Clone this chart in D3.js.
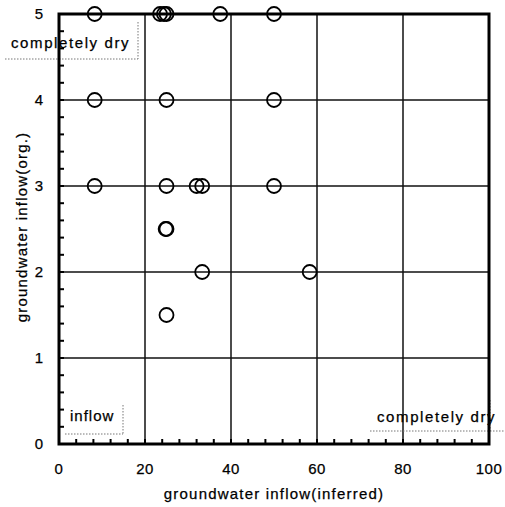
<!DOCTYPE html>
<html><head><meta charset="utf-8">
<script src="https://cdn.jsdelivr.net/npm/d3@7"></script>
<style>body{margin:0;background:#fff}svg{display:block}text{font-family:"Liberation Sans",Arial,sans-serif;fill:#000;stroke:#000;stroke-width:0.25px}</style>
</head><body><svg id="c" width="505" height="507"></svg>
<script>
const inferred = [8.3, 23.5, 24.4, 25, 37.5, 50, 8.3, 25, 50, 8.3, 25, 32, 33.3, 50, 24.8, 25, 33.3, 58.3, 25];
const original = [5, 5, 5, 5, 5, 5, 4, 4, 4, 3, 3, 3, 3, 3, 2.5, 2.5, 2, 2, 1.5];
const xTicks = [0, 20, 40, 60, 80, 100];
const yTicks = [0, 1, 2, 3, 4, 5];
const xTitle = "groundwater inflow(inferred)";
const yTitle = "groundwater inflow(org.)";

const svg = d3.select("#c");
const x = d3.scaleLinear().domain([0, 100]).range([59, 489]);
const y = d3.scaleLinear().domain([0, 5]).range([444, 14]);

// grid lines
svg.append("g").selectAll("line").data(xTicks.slice(1, -1)).join("line")
  .attr("x1", d => x(d)).attr("x2", d => x(d)).attr("y1", y(0)).attr("y2", y(5))
  .attr("stroke", "#111").attr("stroke-width", 1.5);
svg.append("g").selectAll("line").data(yTicks.slice(1, -1)).join("line")
  .attr("y1", d => y(d)).attr("y2", d => y(d)).attr("x1", x(0)).attr("x2", x(100))
  .attr("stroke", "#111").attr("stroke-width", 1.5);

// minor ticks
const xMinor = d3.range(0, 101, 4);
svg.append("g").selectAll("line").data(xMinor).join("line")
  .attr("x1", d => x(d)).attr("x2", d => x(d)).attr("y1", y(0)).attr("y2", y(0) - 5)
  .attr("stroke", "#000").attr("stroke-width", 2);
const yMinor = d3.range(0, 26).map(i => i * 0.2);
svg.append("g").selectAll("line").data(yMinor).join("line")
  .attr("y1", d => y(d)).attr("y2", d => y(d)).attr("x1", x(0)).attr("x2", x(0) + 5)
  .attr("stroke", "#000").attr("stroke-width", 2);

// text boxes (dotted)
function box(tx, ty, label, lines) {
  svg.append("text").attr("x", tx).attr("y", ty).attr("font-size", 15)
    .attr("letter-spacing", label === "inflow" ? 1 : 1.6).text(label);
  lines.forEach(l => svg.append("line").attr("x1", l[0]).attr("y1", l[1]).attr("x2", l[2]).attr("y2", l[3])
    .attr("stroke", "#777").attr("stroke-width", 1).attr("stroke-dasharray", "1.5,1.5"));
}
box(11, 48, "completely dry", [[5, 59, 138, 59], [138, 22, 138, 59]]);
box(70, 421, "inflow", [[65, 434, 123, 434], [123, 405, 123, 434]]);
box(377, 422, "completely dry", [[370, 431, 505, 431], [490, 400, 490, 431]]);

// frame
svg.append("rect").attr("x", x(0)).attr("y", y(5)).attr("width", x(100) - x(0)).attr("height", y(0) - y(5))
  .attr("fill", "none").attr("stroke", "#000").attr("stroke-width", 3);

// points
svg.append("g").selectAll("circle").data(inferred.map((d, i) => [d, original[i]])).join("circle")
  .attr("cx", d => x(d[0])).attr("cy", d => y(d[1])).attr("r", 7)
  .attr("fill", "none").attr("stroke", "#000").attr("stroke-width", 1.8);

// tick labels
svg.append("g").selectAll("text").data(xTicks).join("text")
  .attr("x", d => x(d)).attr("y", 474).attr("text-anchor", "middle").attr("font-size", 15)
  .attr("letter-spacing", 0.5).text(d => d);
svg.append("g").selectAll("text").data(yTicks).join("text")
  .attr("x", 43).attr("y", d => y(d) + 5).attr("text-anchor", "end").attr("font-size", 15).text(d => d);

// titles
svg.append("text").attr("x", 274).attr("y", 499).attr("text-anchor", "middle").attr("font-size", 15)
  .attr("letter-spacing", 1.2).text(xTitle);
svg.append("text").attr("transform", "translate(27,227) rotate(-90)").attr("text-anchor", "middle")
  .attr("font-size", 15).attr("letter-spacing", 1.2).text(yTitle);
</script></body></html>
